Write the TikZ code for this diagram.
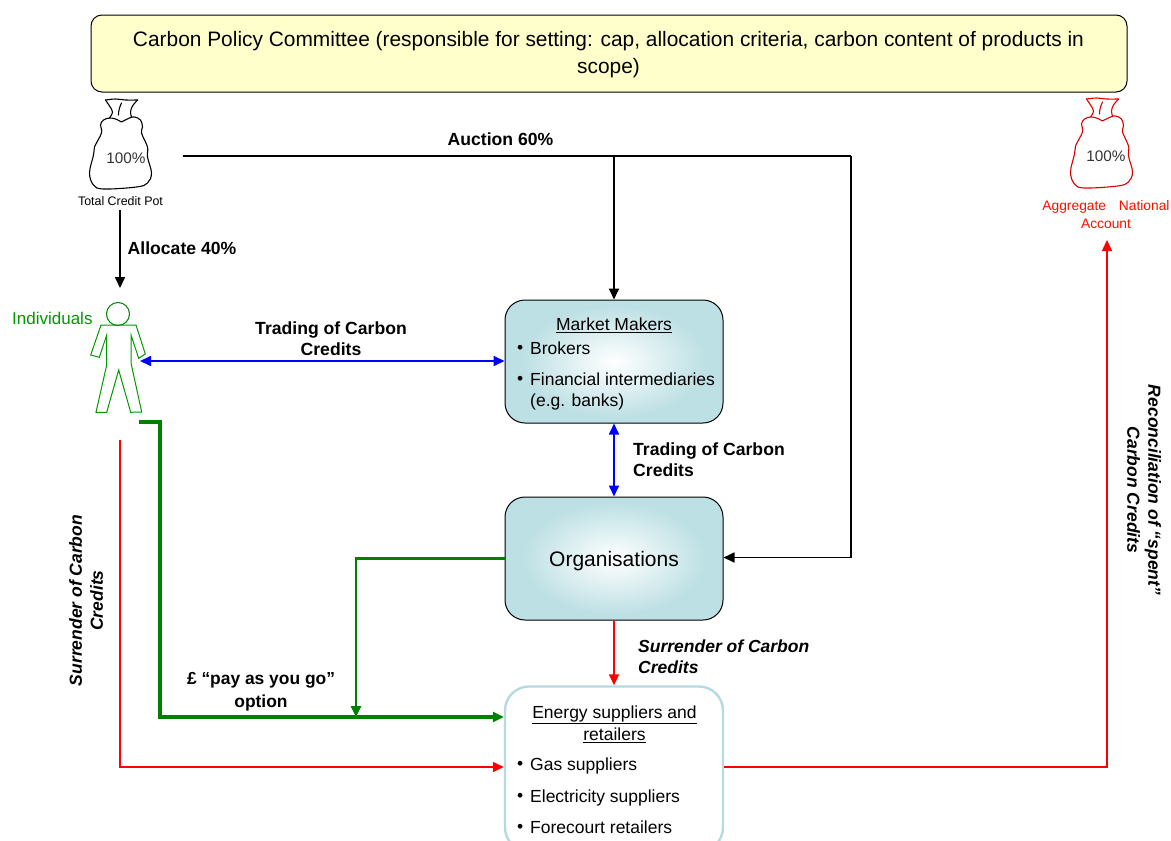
\documentclass[tikz,border=0pt]{standalone}
\usepackage{fontspec}
\setmainfont{Liberation Sans}
\usetikzlibrary{arrows.meta,calc}
\definecolor{boxblue}{HTML}{BDE0E4}
\definecolor{edgeblue}{HTML}{B5DADF}
\definecolor{grn}{HTML}{008000}
\definecolor{polyel}{HTML}{FFFFCC}
\tikzset{
  tx/.style={font=\fontsize{17.5}{21}\selectfont,align=center,inner sep=0pt,text=black},
  btx/.style={font=\fontsize{17.6}{21}\selectfont\bfseries,align=center,inner sep=0pt},
  ibtx/.style={font=\fontsize{17.5}{21}\selectfont\bfseries\itshape,align=center,inner sep=0pt},
  mbox/.style={rounded corners=20,minimum width=218,minimum height=123,inner sep=0pt,draw=black,line width=1,fill=boxblue},
  glow/.style={inner color=white,outer color=boxblue},
  blk/.style={black,line width=1.7,-{Triangle[length=11,width=10]}},
  blu/.style={blue,line width=1.7,{Triangle[length=11,width=10]}-{Triangle[length=11,width=10]}},
  rd/.style={red,line width=1.5,-{Triangle[length=11,width=10]}},
  gr/.style={grn,line width=2.6,-{Triangle[length=11,width=10]}},
  grt/.style={grn,line width=3.4,-{Triangle[length=11,width=10]}},
  lineonly/.style={-},
}
\newcommand{\bagshape}[3]{% x, top y, colour
\begin{scope}[shift={(#1,#2)},#3,line width=1.1,line join=round,line cap=round]
\draw plot[smooth,tension=0.6] coordinates {(1,23)(9,19)(14,18)(20,21)(22,28)(21,34)(27,48)(27,58)(31,74)(27,84)(16,88)(-17,90)(-27,86)(-31,74)(-27,56)(-26,48)(-19,34)(-20,26)(-17,21)(-11,19)(-5,20)(1,23)};
\draw plot[smooth,tension=0.6] coordinates {(-11,19)(-8,13)(-11,7)(-15,1)};
\draw plot[smooth,tension=0.6] coordinates {(-15,1)(-5,0)(5,1)(17,1)};
\draw plot[smooth,tension=0.6] coordinates {(17,1)(12,7)(10,13)(11,18)};
\draw (1,4) .. controls (-1,8) and (-2,12) .. (-2,16);
\end{scope}}
\begin{document}
\begin{tikzpicture}[x=1pt,y=-1pt]
\useasboundingbox (0,0) rectangle (1171,841);
% coordinates for free ends
\coordinate (potout) at (183,156);
\coordinate (auctionT) at (614,156);
\coordinate (auctionR) at (851,156);
\coordinate (allocS) at (120,210);
\coordinate (allocE) at (120,288);
\coordinate (persB) at (140,361);
\coordinate (grnS) at (139,422);
\coordinate (redS) at (120,440);
\coordinate (acct) at (1107,240);
% committee
\node[draw=black,line width=1,rounded corners=11,minimum width=1036,minimum height=77,inner sep=0pt,fill=polyel] (cpc) at (609,53.5) {};
\node[tx,font=\fontsize{20.9}{26.5}\selectfont] (cpct) at (608.5,54.5) {Carbon Policy Committee (responsible for setting: cap, allocation criteria, carbon content of products in\\ scope)};
% bags
\bagshape{120.5}{99}{black}
\bagshape{1101.5}{98}{red!85!black}
\node[tx,font=\fontsize{15.3}{18}\selectfont,text=black!80] (p1) at (126,158) {100\%};
\node[tx,font=\fontsize{15.3}{18}\selectfont,text=black!80] (p2) at (1106,156) {100\%};
\node[tx,font=\fontsize{12.4}{18}\selectfont,text=black] (pot) at (120.5,201) {Total Credit Pot};
\node[tx,text=red!90!orange,font=\fontsize{13.8}{18}\selectfont] (nat) at (1106,214.5) {Aggregate\hspace{9pt} National\\Account};
% person
\node[tx,text=green!60!black,font=\fontsize{17}{20}\selectfont,anchor=west] (ind) at (12,318) {Individuals};
\node[draw=grn,circle,line width=1,minimum size=23,inner sep=0pt] (head) at (118,314) {};
\draw[green!60!black,line width=1] (101,325) -- (136,325) -- (145.3,354) -- (138.7,358.3) -- (131,335) -- (131,363) -- (141.7,412) -- (130.7,412.3) -- (118.7,370) -- (106.7,412.3) -- (96,412.3) -- (106.7,365) -- (106.7,335) -- (99.3,357.3) -- (90.7,355) -- cycle;
% boxes
\node[mbox] (mm) at (614,361.5) {};
\node[mbox] (org) at (614,558.5) {};
\shade[glow] (mm.center) ellipse (92 and 56);
\shade[glow] (org.center) ellipse (92 and 56);
\begin{scope}
\clip (0,0) rectangle (1171,841);
\node[rounded corners=24,minimum width=218,minimum height=165,inner sep=0pt,draw=edgeblue,line width=2.4,fill=white] (en) at (614,769) {};
\end{scope}
% box texts
\node[tx] (mmt) at (614,325.5) {\underline{Market Makers}};
\node[tx,anchor=west] (b1) at (517,349) {•};
\node[tx,anchor=west] (b1t) at (530,348.5) {Brokers};
\node[tx,anchor=west] (b2) at (517,380) {•};
\node[tx,anchor=west,align=left] (b2t) at (530,391) {Financial intermediaries\\(e.g. banks)};
\node[tx,font=\fontsize{21}{24}\selectfont] (orgt) at (614,561) {Organisations};
\node[tx] (ent) at (614.5,724) {\underline{Energy suppliers and}\\[1pt]\underline{retailers}};
\node[tx,anchor=west] (e1) at (517,765) {•};
\node[tx,anchor=west] (e1t) at (530,765.5) {Gas suppliers};
\node[tx,anchor=west] (e2) at (517,797) {•};
\node[tx,anchor=west] (e2t) at (530,797.5) {Electricity suppliers};
\node[tx,anchor=west] (e3) at (517,828) {•};
\node[tx,anchor=west] (e3t) at (530,827.5) {Forecourt retailers};
% labels
\node[btx] (l1) at (500.5,139) {Auction 60\%};
\node[btx] (l2) at (182,248) {Allocate 40\%};
\node[btx] (l3) at (331,338.5) {Trading of Carbon\\Credits};
\node[btx,align=left,anchor=west] (l4) at (633,460) {Trading of Carbon\\Credits};
\node[ibtx,align=left,anchor=west] (l5) at (638,656.5) {Surrender of Carbon\\Credits};
\node[btx,font=\fontsize{17.4}{23}\selectfont\bfseries] (l6) at (261,692) {£ “pay as you go”\\option};
\node[ibtx,rotate=90] (l7) at (86,600.5) {Surrender of Carbon\\Credits};
\node[ibtx,rotate=-90] (l8) at (1144,490) {Reconciliation of “spent”\\Carbon Credits};
% connectors
\draw[blk,lineonly] (potout) -- (auctionR);
\draw[blk] (auctionT) -- (mm.north -| auctionT);
\draw[blk] (auctionR) |- ($(org.east)+(0,-1)$);
\draw[blk] (allocS) -- (allocE);
\draw[blu] (persB) -- (persB -| mm.west);
\draw[blu] (mm.south) -- (org.north);
\draw[rd] (org.south) -- (en.north);
\draw[rd] (redS) |- ($(en.west)+(0,-2)$);
\draw[rd] ($(en.east)+(0,-2)$) -| (acct);
\draw[grt] (grnS) -- (160,422) -- (160,717) -- ($(en.west)+(0,-52)$);
\draw[gr] (org.west) -- (356,558.5) -- (356,717);
\end{tikzpicture}
\end{document}
